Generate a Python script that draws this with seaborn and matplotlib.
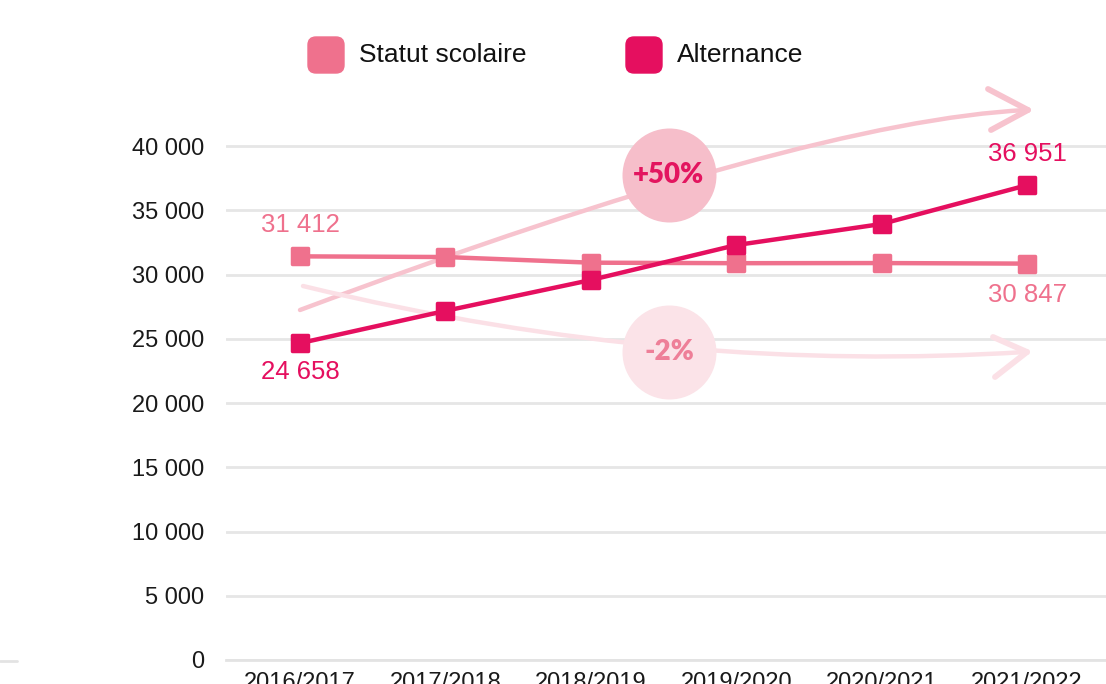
import matplotlib
matplotlib.use("Agg")
import matplotlib.pyplot as plt
import seaborn as sns
import pandas as pd
from matplotlib.path import Path
from matplotlib.patches import PathPatch, FancyBboxPatch
from matplotlib.markers import MarkerStyle
from matplotlib.ticker import FuncFormatter
from matplotlib.transforms import IdentityTransform
from matplotlib.lines import Line2D

# ============================================
# DATA
# ============================================
years = ["2016/2017", "2017/2018", "2018/2019", "2019/2020", "2020/2021", "2021/2022"]
statut_scolaire = [31412, 31360, 30920, 30880, 30890, 30847]
alternance = [24658, 27170, 29570, 32290, 33930, 36951]
series_names = ["Statut scolaire", "Alternance"]
series_colors = ["#EF718D", "#E50F5F"]
evolution_labels = ["+50%", "-2%"]

# ============================================
# STYLE
# ============================================
sns.set_style("white")
plt.rcParams["font.family"] = ["Liberation Sans", "DejaVu Sans"]

W, H = 1106, 684
fig = plt.figure(figsize=(W / 100, H / 100), dpi=100)

# axes: left at the first grid pixel, zero line at y=660
step = 145.4
ax = fig.add_axes([226 / W, 24 / H, 880 / W, (660 - 94.6) / H])

df = pd.DataFrame({
    "annee": years * 2,
    "effectif": statut_scolaire + alternance,
    "statut": [series_names[0]] * 6 + [series_names[1]] * 6,
})

sns.lineplot(data=df, x="annee", y="effectif", hue="statut",
             hue_order=series_names,
             palette=dict(zip(series_names, series_colors)),
             linewidth=3.2, marker="s", markersize=11, sort=False,
             legend=False, ax=ax, zorder=6)

for line, col in zip(ax.lines, series_colors):
    line.set_marker(MarkerStyle("s", joinstyle="round"))
    line.set_markeredgecolor(col)
    line.set_markerfacecolor(col)
    line.set_markeredgewidth(2.5)

ax.set_xlim(-74 / step, (W - 300) / step)
ax.set_ylim(0, 44000)
ax.set_yticks(range(0, 40001, 5000))
ax.yaxis.set_major_formatter(FuncFormatter(lambda v, p: format(int(v), ",").replace(",", " ")))
ax.set_xlabel("")
ax.set_ylabel("")

ax.grid(axis="y", color="#E6E6E6", linewidth=2)
ax.grid(axis="x", visible=False)
for s in ["top", "right", "left"]:
    ax.spines[s].set_visible(False)
ax.spines["bottom"].set_color("#E3E3E3")
ax.spines["bottom"].set_linewidth(2)

ax.tick_params(axis="y", length=0, pad=16, labelsize=17, labelcolor="#1a1a1a")
ax.tick_params(axis="x", direction="in", length=10, width=1.3, color="#E3E3E3",
               pad=8.5, labelsize=17, labelcolor="#1a1a1a")

# value labels at first and last points
label_font = dict(fontsize=18.5, ha="center", va="center", textcoords="offset pixels")
ax.annotate(format(statut_scolaire[0], ",").replace(",", " "), (0, statut_scolaire[0]),
            xytext=(0, 31), color=series_colors[0], **label_font)
ax.annotate(format(alternance[0], ",").replace(",", " "), (0, alternance[0]),
            xytext=(0, -29), color=series_colors[1], **label_font)
ax.annotate(format(alternance[-1], ",").replace(",", " "), (5, alternance[-1]),
            xytext=(0, 31), color=series_colors[1], **label_font)
ax.annotate(format(statut_scolaire[-1], ",").replace(",", " "), (5, statut_scolaire[-1]),
            xytext=(0, -31), color=series_colors[0], **label_font)


# ============================================
# DECORATIVE TREND ARROWS (pixel helpers)
# ============================================
def px(x, y):
    return ((x - 300) / step, (660 - y) * 40000 / 514)


def draw_curve(points, codes, color, head):
    path = Path([px(*p) for p in points], codes)
    ax.add_patch(PathPatch(path, fill=False, edgecolor=color, linewidth=3.2,
                           capstyle="round", zorder=2, clip_on=False))
    for arm in head[1:]:
        xs, ys = zip(px(*arm), px(*head[0]))
        ax.plot(xs, ys, color=color, linewidth=4.2, solid_capstyle="round",
                solid_joinstyle="round", zorder=2, clip_on=False)


draw_curve([(300, 310), (806, 121), (1026, 110)],
           [Path.MOVETO, Path.CURVE3, Path.CURVE3], "#F7C3CE",
           [(1028, 110), (988, 89), (991, 130)])
draw_curve([(303, 286), (560, 348), (800, 366), (1025, 352)],
           [Path.MOVETO, Path.CURVE4, Path.CURVE4, Path.CURVE4], "#FBE0E6",
           [(1027, 352), (993, 337), (995, 377)])

# circles with the evolution rates
for (cx, cy), fill, tcol, txt in [((669, 175), "#F6BECA", "#E3155F", evolution_labels[0]),
                                   ((669, 352), "#FBE3E8", "#EE7F98", evolution_labels[1])]:
    x, y = px(cx, cy)
    ax.scatter([x], [y], s=(94 * 0.72) ** 2, color=fill, linewidths=0, zorder=4, clip_on=False)
    ax.text(x, y, txt, ha="center", va="center", fontsize=20, fontweight="heavy",
            family=["Lato", "DejaVu Sans"], color=tcol, zorder=5)

# ============================================
# LEGEND (manual rounded squares)
# ============================================
for (x0, name, col) in [(308, series_names[0], series_colors[0]),
                        (626, series_names[1], series_colors[1])]:
    fig.patches.append(FancyBboxPatch((x0, H - 73), 36, 36,
                                      boxstyle="round,pad=0,rounding_size=8",
                                      transform=IdentityTransform(), color=col,
                                      figure=fig))
    fig.text((x0 + 51) / W, (H - 55) / H, name, fontsize=19, va="center",
             ha="left", color="#111111")

# small grey line at the bottom left edge
fig.lines.append(Line2D([0, 17 / W], [(H - 661) / H] * 2, color="#E3E3E3",
                        linewidth=2, transform=fig.transFigure, figure=fig))

fig.savefig("out.png", dpi=100)
